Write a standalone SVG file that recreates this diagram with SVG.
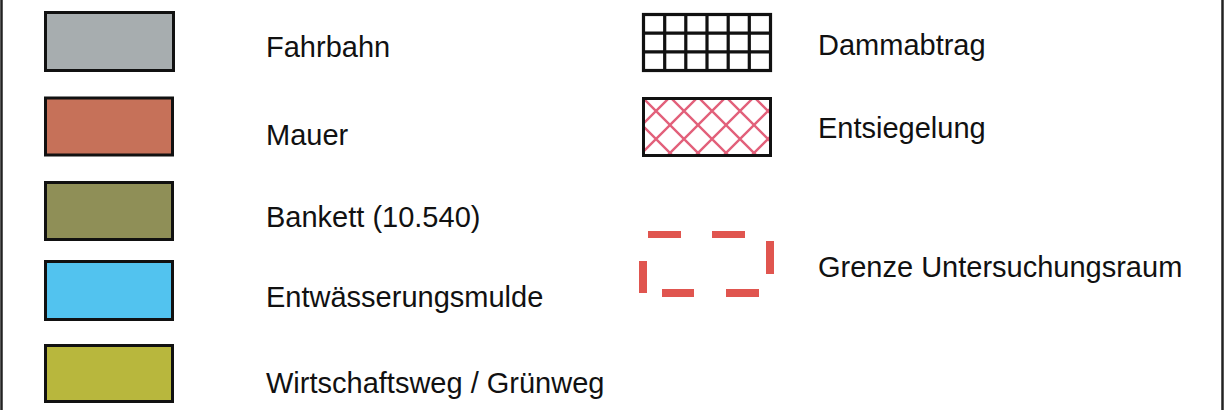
<svg xmlns="http://www.w3.org/2000/svg" width="1230" height="410" viewBox="0 0 1230 410">
<style>
  .sw{stroke:#111;stroke-width:3}
  .lbl{font-family:"Liberation Sans",Arial,sans-serif;font-size:29px;fill:#111}
  .dash{fill:#e0554f}
  .grid{stroke:#111;stroke-width:3.2;fill:none}
</style>
<defs>
  <pattern id="hatch" patternUnits="userSpaceOnUse" x="670" y="97" width="28" height="28">
    <path d="M0,0 L28,28 M28,0 L0,28" stroke="#e2607a" stroke-width="2.4" fill="none"/>
  </pattern>
</defs>
<rect width="1230" height="410" fill="#fff"/>
<g id="frame">
  <line x1="1.5" y1="0" x2="1.5" y2="410" stroke="#222" stroke-width="2.5"/>
  <line x1="1222.5" y1="0" x2="1222.5" y2="410" stroke="#222" stroke-width="2.5"/>
</g>
<g id="fahrbahn">
  <rect class="sw" x="45.5" y="12.5" width="128" height="58" fill="#a7adaf"/>
  <text class="lbl" x="266" y="57">Fahrbahn</text>
</g>
<g id="mauer">
  <rect class="sw" x="45.5" y="98" width="127" height="57" fill="#c67159"/>
  <text class="lbl" x="266" y="145">Mauer</text>
</g>
<g id="bankett">
  <rect class="sw" x="45.5" y="182.5" width="127" height="57" fill="#8f8f57"/>
  <text class="lbl" x="266" y="227">Bankett (10.540)</text>
</g>
<g id="entwaesserungsmulde">
  <rect class="sw" x="45.5" y="261.5" width="127" height="58" fill="#52c3ef"/>
  <text class="lbl" x="266" y="307">Entwässerungsmulde</text>
</g>
<g id="wirtschaftsweg">
  <rect class="sw" x="45.5" y="345.5" width="127" height="56" fill="#b8b73d"/>
  <text class="lbl" x="266" y="393">Wirtschaftsweg / Grünweg</text>
</g>
<g id="dammabtrag">
  <rect class="grid" x="643.5" y="14.5" width="127" height="56" fill="#fff"/>
  <path class="grid" d="M664.7,14.5 V70.5 M685.8,14.5 V70.5 M707,14.5 V70.5 M728.2,14.5 V70.5 M749.3,14.5 V70.5 M643.5,33.2 H770.5 M643.5,51.8 H770.5"/>
  <text class="lbl" x="818" y="55">Dammabtrag</text>
</g>
<g id="entsiegelung">
  <rect x="643.5" y="98.5" width="127" height="57" fill="url(#hatch)" stroke="#111" stroke-width="3"/>
  <text class="lbl" x="818" y="138">Entsiegelung</text>
</g>
<g id="grenze">
  <rect class="dash" x="648" y="231" width="33" height="7"/>
  <rect class="dash" x="712" y="231" width="33" height="7"/>
  <rect class="dash" x="766" y="241" width="8" height="33"/>
  <rect class="dash" x="639" y="261" width="8" height="32"/>
  <rect class="dash" x="662" y="289" width="32" height="8"/>
  <rect class="dash" x="726" y="289" width="33" height="8"/>
  <text class="lbl" x="818" y="277">Grenze Untersuchungsraum</text>
</g>
<g id="connectors"/>
</svg>
